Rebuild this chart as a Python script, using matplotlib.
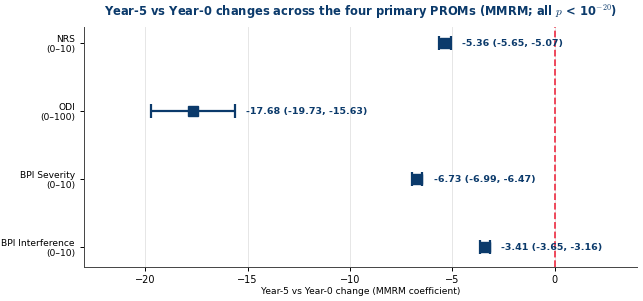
import matplotlib
matplotlib.use("Agg")
import matplotlib.pyplot as plt
import numpy as np

labels = ["NRS\n(0–10)", "ODI\n(0–100)", "BPI Severity\n(0–10)", "BPI Interference\n(0–10)"]
coef = [-5.36, -17.68, -6.73, -3.41]
ci_lo = [-5.65, -19.73, -6.99, -3.65]
ci_hi = [-5.07, -15.63, -6.47, -3.16]

plt.rcParams['mathtext.fontset'] = 'cm'
navy = "#0b3a6b"

fig, ax = plt.subplots(figsize=(6.43, 3.01), dpi=100)
y = np.arange(len(labels))
coef_a = np.array(coef)
err = np.vstack([coef_a - np.array(ci_lo), np.array(ci_hi) - coef_a])
ax.errorbar(coef_a, y, xerr=err, fmt='s', color=navy, ecolor=navy,
            markersize=6.5, capsize=5, elinewidth=1.6, capthick=1.6, zorder=3)
for yi, c, lo, hi in zip(y, coef, ci_lo, ci_hi):
    ax.text(hi + 0.55, yi, f"{c:.2f} ({lo:.2f}, {hi:.2f})", va='center', ha='left',
            fontsize=6.8, fontweight='bold', color=navy)
ax.axvline(0, color='#ee3a4f', linestyle='--', linewidth=1.3, zorder=2)
ax.set_yticks(y)
ax.set_yticklabels(labels, fontsize=6.6)
ax.set_ylim(3.294, -0.235)
ax.set_xlim(-23, 4)
ax.set_xticks([-20, -15, -10, -5, 0])
ax.tick_params(axis='x', labelsize=7, length=3, width=0.7, pad=2.5)
ax.tick_params(axis='y', length=3, width=0.7)
ax.grid(axis='x', color='#e6e6e6', linewidth=0.7, zorder=0)
ax.set_axisbelow(True)
for s in ['top', 'right']:
    ax.spines[s].set_visible(False)
for s in ['left', 'bottom']:
    ax.spines[s].set_linewidth(0.7)
    ax.spines[s].set_color('#444444')
ax.set_xlabel("Year-5 vs Year-0 change (MMRM coefficient)", fontsize=6.6, labelpad=1.5)
ax.set_title("Year-5 vs Year-0 changes across the four primary PROMs (MMRM; all $p$ < 10$^{-20}$)",
             fontsize=8.3, fontweight='bold', color=navy, pad=8)
fig.subplots_adjust(left=0.1306, right=0.99, top=0.91, bottom=0.113)
fig.savefig("out.png", dpi=100)
